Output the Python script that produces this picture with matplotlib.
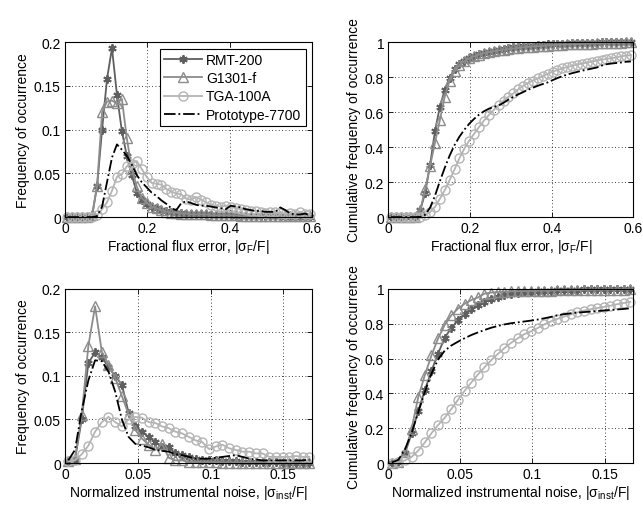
import matplotlib
matplotlib.use("Agg")
import matplotlib.pyplot as plt
import numpy as np
from matplotlib.ticker import FormatStrFormatter

plt.rcParams["font.family"] = ["Liberation Sans", "DejaVu Sans"]
plt.rcParams["mathtext.default"] = "regular"
plt.rcParams["font.size"] = 10

# --- bin centres ---
flux_err = [0.006, 0.018, 0.030, 0.042, 0.054, 0.066, 0.078, 0.090, 0.102, 0.114,
            0.126, 0.138, 0.150, 0.162, 0.174, 0.186, 0.198, 0.210, 0.222, 0.234,
            0.246, 0.258, 0.270, 0.282, 0.294, 0.306, 0.318, 0.330, 0.342, 0.354,
            0.366, 0.378, 0.390, 0.402, 0.414, 0.426, 0.438, 0.450, 0.462, 0.474,
            0.486, 0.498, 0.510, 0.522, 0.534, 0.546, 0.558, 0.570, 0.582, 0.594]

inst_noise = [0.0023, 0.0069, 0.0115, 0.0161, 0.0207, 0.0253, 0.0299, 0.0345, 0.0391, 0.0437,
              0.0483, 0.0529, 0.0575, 0.0621, 0.0667, 0.0713, 0.0759, 0.0805, 0.0851, 0.0897,
              0.0943, 0.0989, 0.1035, 0.1081, 0.1127, 0.1173, 0.1219, 0.1265, 0.1311, 0.1357,
              0.1403, 0.1449, 0.1495, 0.1541, 0.1587, 0.1633, 0.1679]

# --- frequency of occurrence, fractional flux error ---
rmt_flux = [0, 0, 0, 0, 0, 0.002, 0.036, 0.100, 0.158, 0.193,
            0.140, 0.098, 0.070, 0.048, 0.028, 0.020, 0.015, 0.012, 0.010, 0.008,
            0.007, 0.006, 0.005, 0.005, 0.004, 0.004, 0.003, 0.003, 0.003, 0.002,
            0.002, 0.002, 0.002, 0.002, 0.001, 0.001, 0.001, 0.001, 0.001, 0.001,
            0.001, 0.001, 0.001, 0.001, 0.0005, 0.0005, 0.0005, 0.0005, 0.0005, 0.0005]
g1301_flux = [0, 0, 0, 0, 0, 0.002, 0.036, 0.120, 0.132, 0.133,
              0.130, 0.135, 0.090, 0.055, 0.035, 0.022, 0.016, 0.012, 0.010, 0.008,
              0.006, 0.005, 0.005, 0.004, 0.004, 0.003, 0.003, 0.003, 0.003, 0.002,
              0.002, 0.002, 0.002, 0.002, 0.002, 0.001, 0.001, 0.001, 0.001, 0.001,
              0.001, 0.001, 0.001, 0.001, 0.001, 0.001, 0.001, 0.001, 0.001, 0.001]
tga_flux = [0, 0, 0, 0, 0, 0, 0.002, 0.009, 0.017, 0.030,
            0.046, 0.049, 0.058, 0.061, 0.064, 0.055, 0.046, 0.039, 0.038, 0.037,
            0.032, 0.029, 0.027, 0.026, 0.021, 0.020, 0.023, 0.020, 0.017, 0.014,
            0.013, 0.012, 0.013, 0.012, 0.010, 0.009, 0.008, 0.007, 0.007, 0.006,
            0.005, 0.006, 0.006, 0.005, 0.004, 0.005, 0.004, 0.006, 0.004, 0.003]
proto_flux = [0, 0, 0, 0, 0, 0, 0.001, 0.012, 0.040, 0.068,
              0.083, 0.077, 0.070, 0.060, 0.048, 0.040, 0.034, 0.028, 0.024, 0.019,
              0.015, 0.010, 0.008, 0.016, 0.018, 0.016, 0.014, 0.013, 0.013, 0.012,
              0.011, 0.010, 0.009, 0.013, 0.012, 0.011, 0.009, 0.008, 0.007, 0.007,
              0.006, 0.006, 0.006, 0.011, 0.008, 0.004, 0.003, 0.003, 0.004, 0.002]

# --- frequency of occurrence, normalized instrumental noise ---
rmt_noise = [0.001, 0.004, 0.050, 0.115, 0.127, 0.122, 0.110, 0.100, 0.090, 0.058,
             0.042, 0.036, 0.030, 0.024, 0.018, 0.018, 0.011, 0.009, 0.007, 0.005,
             0.004, 0.003, 0.003, 0.002, 0.002, 0.002, 0.001, 0.001, 0.001, 0.001,
             0.001, 0.001, 0.0005, 0.0005, 0.0005, 0.0005, 0.0005]
g1301_noise = [0.002, 0.005, 0.055, 0.135, 0.180, 0.128, 0.113, 0.098, 0.077, 0.056,
               0.038, 0.028, 0.021, 0.015, 0.022, 0.006, 0.003, 0.003, 0.001, 0.001,
               0.001, 0.001, 0.001, 0.0005, 0.0005, 0.0005, 0.0005, 0.0005, 0.0005, 0.0005,
               0.0005, 0.0005, 0.0005, 0.0005, 0.0005, 0.0005, 0.0005]
tga_noise = [0.002, 0.003, 0.010, 0.020, 0.036, 0.047, 0.053, 0.047, 0.042, 0.050,
             0.053, 0.052, 0.047, 0.046, 0.042, 0.040, 0.036, 0.034, 0.030, 0.026,
             0.024, 0.016, 0.019, 0.021, 0.017, 0.015, 0.013, 0.013, 0.011, 0.011,
             0.007, 0.007, 0.007, 0.007, 0.008, 0.007, 0.007]
proto_noise = [0.003, 0.015, 0.060, 0.095, 0.118, 0.117, 0.105, 0.082, 0.050, 0.030,
               0.022, 0.020, 0.018, 0.015, 0.014, 0.013, 0.010, 0.009, 0.007, 0.005,
               0.005, 0.005, 0.006, 0.007, 0.008, 0.009, 0.007, 0.005, 0.004, 0.003,
               0.003, 0.003, 0.003, 0.003, 0.003, 0.003, 0.004]

SENSORS = ["RMT-200", "G1301-f", "TGA-100A", "Prototype-7700"]
STYLES = {
    "RMT-200": dict(color="#5f5f5f", marker=(6, 2, 0), markersize=6, markeredgewidth=1.4, linestyle="-"),
    "G1301-f": dict(color="#8c8c8c", marker="^", markersize=6.5, markerfacecolor="none", linestyle="-"),
    "TGA-100A": dict(color="#b4b4b4", marker="o", markersize=6.5, markerfacecolor="none", linestyle="-"),
    "Prototype-7700": dict(color="black", marker="", linestyle="-."),
}


def style_axes(ax, xlim, ylim, xticks, yticks):
    ax.set_xlim(*xlim)
    ax.set_ylim(*ylim)
    ax.set_xticks(xticks)
    ax.set_yticks(yticks)
    ax.xaxis.set_major_formatter(FormatStrFormatter("%g"))
    ax.yaxis.set_major_formatter(FormatStrFormatter("%g"))
    ax.tick_params(direction="in", top=True, right=True, length=3.5, width=0.6, labelsize=10, pad=3)
    ax.grid(True, linestyle=(0, (1, 3)), color="k", linewidth=0.6)
    for sp in ax.spines.values():
        sp.set_linewidth(0.8)


def plot_panel(ax, x, series, cumulative=False):
    for name, vals in zip(SENSORS, series):
        y = np.cumsum(vals) if cumulative else np.asarray(vals)
        ax.plot(x, y, label=name, linewidth=1.3, clip_on=False, **STYLES[name])


fig = plt.figure(figsize=(6.43, 5.06), dpi=100)
ax_tl = fig.add_axes([0.101, 0.569, 0.385, 0.346])
ax_tr = fig.add_axes([0.604, 0.569, 0.381, 0.346])
ax_bl = fig.add_axes([0.101, 0.083, 0.385, 0.344])
ax_br = fig.add_axes([0.604, 0.083, 0.381, 0.344])

flux_series = [rmt_flux, g1301_flux, tga_flux, proto_flux]
noise_series = [rmt_noise, g1301_noise, tga_noise, proto_noise]

plot_panel(ax_tl, flux_err, flux_series)
plot_panel(ax_tr, flux_err, flux_series, cumulative=True)
plot_panel(ax_bl, inst_noise, noise_series)
plot_panel(ax_br, inst_noise, noise_series, cumulative=True)

style_axes(ax_tl, (0, 0.6), (0, 0.2), [0, 0.2, 0.4, 0.6], [0, 0.05, 0.1, 0.15, 0.2])
style_axes(ax_tr, (0, 0.6), (0, 1), [0, 0.2, 0.4, 0.6], [0, 0.2, 0.4, 0.6, 0.8, 1])
style_axes(ax_bl, (0, 0.17), (0, 0.2), [0, 0.05, 0.1, 0.15], [0, 0.05, 0.1, 0.15, 0.2])
style_axes(ax_br, (0, 0.17), (0, 1), [0, 0.05, 0.1, 0.15], [0, 0.2, 0.4, 0.6, 0.8, 1])

flux_label = r"Fractional flux error, $|\sigma_F/F|$"
noise_label = r"Normalized instrumental noise, $|\sigma_{inst}/F|$"
ax_tl.set_xlabel(flux_label, labelpad=1)
ax_tr.set_xlabel(flux_label, labelpad=1)
ax_bl.set_xlabel(noise_label, labelpad=1)
ax_br.set_xlabel(noise_label, labelpad=1)
ax_tl.set_ylabel("Frequency of occurrence", labelpad=3)
ax_bl.set_ylabel("Frequency of occurrence", labelpad=3)
ax_tr.set_ylabel("Cumulative frequency of occurrence", labelpad=3)
ax_br.set_ylabel("Cumulative frequency of occurrence", labelpad=3)

leg = ax_tl.legend(loc="upper right", fontsize=10, handlelength=2.7, labelspacing=0.3,
                   borderpad=0.3, handletextpad=0.3, borderaxespad=0.5,
                   fancybox=False, framealpha=1, edgecolor="black")
leg.get_frame().set_linewidth(0.8)

fig.savefig("out.png", dpi=100)
plt.close(fig)
